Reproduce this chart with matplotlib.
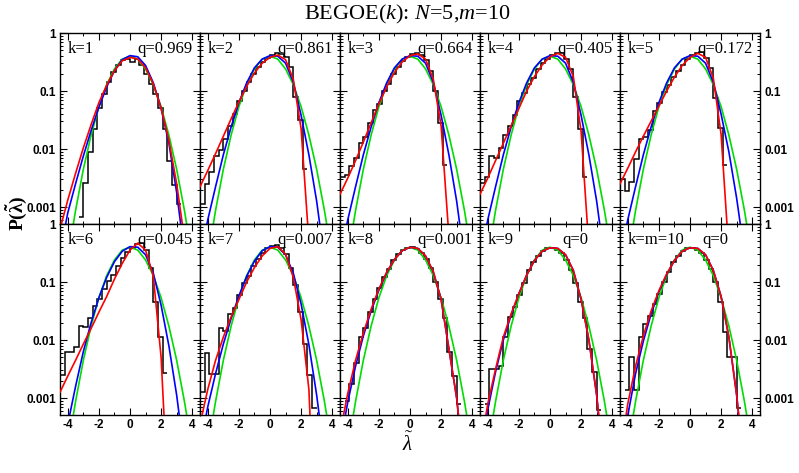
import numpy as np
import matplotlib
matplotlib.use("Agg")
import matplotlib.pyplot as plt
from matplotlib.ticker import FixedLocator, FixedFormatter, LogLocator, MultipleLocator

plt.rcParams["font.family"] = "Liberation Sans"
plt.rcParams["axes.unicode_minus"] = False
plt.rcParams["mathtext.fontset"] = "custom"
plt.rcParams["mathtext.rm"] = "Liberation Serif:weight=normal"
plt.rcParams["mathtext.it"] = "Liberation Serif:style=italic:weight=normal"
plt.rcParams["mathtext.bf"] = "Liberation Serif:weight=bold"

K_LABELS = ["k=1", "k=2", "k=3", "k=4", "k=5", "k=6", "k=7", "k=8", "k=9", "k=m=10"]
Q_LABELS = ["q=0.969", "q=0.861", "q=0.664", "q=0.405", "q=0.172",
            "q=0.045", "q=0.007", "q=0.001", "q=0", "q=0"]

# curve sample points (x), values below are log10 P
X_GRID = [-4.5, -4.0, -3.5, -3.0, -2.5, -2.0, -1.5, -1.0, -0.5, 0.0,
          0.5, 1.0, 1.5, 2.0, 2.5, 3.0, 3.5, 4.0, 4.5]

GREEN_LOG = [-4.80, -3.87, -3.06, -2.35, -1.76, -1.27, -0.89, -0.62, -0.45, -0.40,
             -0.45, -0.62, -0.89, -1.27, -1.76, -2.35, -3.06, -3.87, -4.80]

RED_LOG = [
    [-3.38, -2.88, -2.42, -1.98, -1.58, -1.20, -0.90, -0.65, -0.48, -0.42, -0.45, -0.60, -0.88, -1.30, -1.85, -2.60, -3.55, -4.6, -5.8],
    [-2.65, -2.37, -2.08, -1.78, -1.48, -1.19, -0.92, -0.69, -0.52, -0.42, -0.38, -0.46, -0.80, -1.65, -3.60, -6, -6, -6, -6],
    [-2.78, -2.50, -2.20, -1.88, -1.55, -1.22, -0.93, -0.68, -0.50, -0.39, -0.36, -0.45, -0.80, -1.60, -3.50, -6, -6, -6, -6],
    [-2.78, -2.50, -2.20, -1.90, -1.60, -1.30, -1.00, -0.75, -0.55, -0.41, -0.35, -0.42, -0.75, -1.70, -3.70, -6, -6, -6, -6],
    [-2.60, -2.33, -2.05, -1.78, -1.52, -1.26, -1.00, -0.76, -0.56, -0.42, -0.35, -0.42, -0.78, -1.75, -3.80, -6, -6, -6, -6],
    [-2.90, -2.62, -2.35, -2.07, -1.80, -1.52, -1.25, -0.95, -0.68, -0.45, -0.33, -0.45, -0.90, -2.30, -5.00, -6, -6, -6, -6],
    [-3.45, -2.85, -2.35, -1.95, -1.60, -1.30, -1.00, -0.75, -0.55, -0.42, -0.39, -0.52, -0.92, -1.65, -2.85, -6, -6, -6, -6],
    [-3.60, -2.92, -2.35, -1.88, -1.47, -1.12, -0.83, -0.61, -0.46, -0.40, -0.42, -0.55, -0.82, -1.30, -2.15, -3.00, -4.30, -6, -6],
    [-3.90, -3.10, -2.50, -1.95, -1.55, -1.20, -0.88, -0.63, -0.47, -0.41, -0.42, -0.53, -0.80, -1.30, -2.00, -2.95, -4.30, -6, -6],
    [-4.00, -3.10, -2.45, -1.93, -1.50, -1.15, -0.86, -0.63, -0.47, -0.41, -0.42, -0.53, -0.80, -1.25, -1.95, -2.95, -4.30, -6, -6],
]

BLUE_LOG = [
    [-3.80, -3.10, -2.60, -2.12, -1.68, -1.28, -0.93, -0.65, -0.46, -0.39, -0.41, -0.56, -0.86, -1.30, -1.90, -2.75, -3.80, -5, -6],
    [-3.90, -3.22, -2.65, -2.10, -1.62, -1.20, -0.86, -0.60, -0.45, -0.39, -0.40, -0.52, -0.85, -1.42, -2.10, -2.90, -3.90, -5, -6],
    [-3.90, -3.22, -2.65, -2.10, -1.62, -1.20, -0.86, -0.60, -0.45, -0.39, -0.40, -0.52, -0.85, -1.42, -2.10, -2.90, -3.90, -5, -6],
    [-3.90, -3.22, -2.65, -2.10, -1.62, -1.20, -0.86, -0.60, -0.45, -0.39, -0.40, -0.52, -0.85, -1.42, -2.10, -2.90, -3.90, -5, -6],
    [-3.90, -3.22, -2.65, -2.10, -1.62, -1.20, -0.86, -0.60, -0.45, -0.39, -0.40, -0.52, -0.85, -1.40, -2.05, -2.85, -3.80, -5, -6],
    [-4.30, -3.45, -2.80, -2.20, -1.70, -1.27, -0.92, -0.65, -0.47, -0.39, -0.40, -0.53, -0.85, -1.40, -2.10, -2.95, -4.00, -5, -6],
    [-3.85, -3.15, -2.58, -2.07, -1.63, -1.24, -0.90, -0.64, -0.46, -0.39, -0.40, -0.53, -0.85, -1.38, -2.08, -2.95, -4.00, -5, -6],
    [-3.80, -3.07, -2.45, -1.93, -1.50, -1.14, -0.84, -0.61, -0.46, -0.40, -0.42, -0.55, -0.83, -1.30, -2.15, -3.00, -4.30, -6, -6],
    [-4.10, -3.20, -2.55, -2.00, -1.57, -1.20, -0.88, -0.63, -0.47, -0.41, -0.42, -0.53, -0.80, -1.30, -2.00, -2.95, -4.30, -6, -6],
    [-4.30, -3.30, -2.58, -2.02, -1.55, -1.17, -0.87, -0.63, -0.47, -0.41, -0.42, -0.53, -0.80, -1.25, -1.95, -2.95, -4.30, -6, -6],
]

# histogram: 30 bins of width 0.3 from -4.5 to 4.5, log10 P (None = empty)
BIN_EDGES = np.round(np.arange(31) * 0.3 - 4.5, 2)
N = None
HIST_LOG = [
    [N, N, N, N, -3.17, -2.59, -2.05, -1.65, -1.30, -1.05, -0.85, -0.68, -0.55, -0.47, -0.45, -0.50,
     -0.45, -0.55, -0.70, -0.88, -1.05, -1.30, -1.65, -2.20, -2.62, -2.95, N, N, N, N],
    [-2.95, -2.60, -2.40, -2.12, -2.02, -1.82, -1.60, -1.40, -1.18, -1.00, -0.85, -0.70, -0.58, -0.50, -0.43,
     -0.38, -0.35, -0.36, -0.42, -0.58, -1.10, -1.50, -2.35, N, N, N, N, N, N, N],
    [-2.48, -2.45, -2.30, -2.15, -1.90, -1.80, -1.55, -1.32, -1.22, -1.00, -0.88, -0.70, -0.58, -0.48, -0.42,
     -0.37, -0.35, -0.38, -0.47, -0.65, -1.00, -1.55, -2.28, N, N, N, N, N, N, N],
    [-2.58, -2.48, -2.12, -2.15, -1.98, -1.75, -1.60, -1.42, -1.18, -1.03, -0.88, -0.78, -0.62, -0.52, -0.45,
     -0.38, -0.34, -0.35, -0.45, -0.62, -1.10, -1.65, -2.48, N, N, N, N, N, N, N],
    [-2.52, -2.72, -2.56, -2.18, -1.82, -1.80, -1.67, -1.35, -1.20, -1.02, -0.90, -0.75, -0.65, -0.55, -0.45,
     -0.38, -0.34, -0.33, -0.43, -0.60, -1.12, -1.64, -2.28, N, N, N, N, N, N, N],
    [-2.60, -2.20, -2.20, -2.12, -1.76, -1.78, -1.62, -1.42, -1.30, -1.12, -0.98, -0.88, -0.72, -0.58, -0.48,
     -0.42, -0.34, -0.32, -0.45, -0.75, -1.34, -1.95, -2.57, N, N, N, N, N, N, N],
    [-2.90, -2.23, -2.58, -2.58, -1.80, -1.85, -1.55, -1.45, -1.22, -1.02, -0.90, -0.72, -0.60, -0.50, -0.42,
     -0.38, -0.36, -0.42, -0.52, -0.75, -1.05, -1.52, -2.06, -2.61, -3.18, N, N, N, N, N],
    [N, -3.05, -2.75, -2.40, -1.95, -1.80, -1.52, -1.30, -1.10, -0.92, -0.78, -0.62, -0.52, -0.45, -0.41,
     -0.40, -0.43, -0.50, -0.60, -0.75, -1.00, -1.30, -1.62, -2.20, -2.62, -3.10, N, N, N, N],
    [N, -3.10, -2.50, -2.50, -2.45, -1.95, -1.60, -1.43, -1.22, -1.02, -0.80, -0.66, -0.55, -0.47, -0.42,
     -0.41, -0.44, -0.50, -0.62, -0.80, -1.02, -1.35, -1.62, -2.15, -2.55, -3.20, N, N, N, N],
    [N, -2.87, -2.30, -2.87, -1.95, -1.72, -1.58, -1.38, -1.20, -1.00, -0.82, -0.66, -0.55, -0.47, -0.42,
     -0.41, -0.44, -0.50, -0.62, -0.78, -1.00, -1.34, -1.86, -2.29, -2.29, -3.18, N, N, N, N],
]

W, H = 799, 473
PW, PH = 140, 191

fig = plt.figure(figsize=(W / 100, H / 100), dpi=100)
x = np.array(X_GRID)

for i in range(10):
    row, col = divmod(i, 5)
    left = 60 + PW * col
    top = 33 + PH * row
    ax = fig.add_axes([left / W, 1 - (top + PH) / H, PW / W, PH / H])

    hist = 10 ** np.array(HIST_LOG[i], dtype=float)
    ax.stairs(hist, BIN_EDGES, baseline=None, color="black", lw=1.1, zorder=1)
    ax.plot(x, 10 ** np.array(GREEN_LOG), color="#00dd00", lw=1.2, zorder=2)
    ax.plot(x, 10 ** np.array(BLUE_LOG[i]), color="#0000ff", lw=1.2, zorder=3)
    ax.plot(x, 10 ** np.array(RED_LOG[i]), color="#ff0000", lw=1.2, zorder=4)

    ax.set_yscale("log")
    ax.set_xlim(-4.5, 4.5)
    ax.set_ylim(5.1e-4, 1)

    ax.yaxis.set_major_locator(FixedLocator([1e-3, 1e-2, 1e-1, 1]))
    ax.yaxis.set_major_formatter(FixedFormatter(["0.001", "0.01", "0.1", "1"]))
    ax.yaxis.set_minor_locator(LogLocator(base=10, subs=np.arange(2, 10) * 1.0, numticks=20))
    ax.xaxis.set_major_locator(FixedLocator([-4, -2, 0, 2, 4]))
    ax.xaxis.set_major_formatter(FixedFormatter(["-4", "-2", "0", "2", "4"]))
    ax.xaxis.set_minor_locator(MultipleLocator(1))

    ax.tick_params(which="both", direction="in", top=True, right=True, labelsize=8.5, pad=3)
    ax.tick_params(which="major", length=5, width=0.8)
    ax.tick_params(which="minor", length=2.5, width=0.7)
    ax.tick_params(labelleft=(col == 0), labelright=(col == 4), labelbottom=(row == 1))
    plt.setp(ax.get_xticklabels() + ax.get_yticklabels(), fontweight="bold")
    for s in ax.spines.values():
        s.set_linewidth(1.0)

    ax.text(8 / PW, 1 - 16 / PH, K_LABELS[i], transform=ax.transAxes, fontsize=12,
            family="Liberation Serif", va="center", ha="left")
    if Q_LABELS[i] == "q=0":
        ax.text(82 / PW, 1 - 16 / PH, Q_LABELS[i], transform=ax.transAxes, fontsize=12,
                family="Liberation Serif", va="center", ha="left")
    else:
        ax.text(1 - 7 / PW, 1 - 16 / PH, Q_LABELS[i], transform=ax.transAxes, fontsize=12,
                family="Liberation Serif", va="center", ha="right")

fig.text(407 / W, 1 - 14 / H, r"BEGOE($k$): $N$=5,$m$=10", fontsize=16,
         family="Liberation Serif", ha="center", va="center")
fig.text(16 / W, 1 - 213 / H, r"$\mathbf{P(\tilde{\lambda})}$", fontsize=14,
         rotation=90, ha="center", va="center")
fig.text(408 / W, 1 - 443 / H, r"$\tilde{\lambda}$", fontsize=15, ha="center", va="center")

fig.savefig("out.png", dpi=100)
